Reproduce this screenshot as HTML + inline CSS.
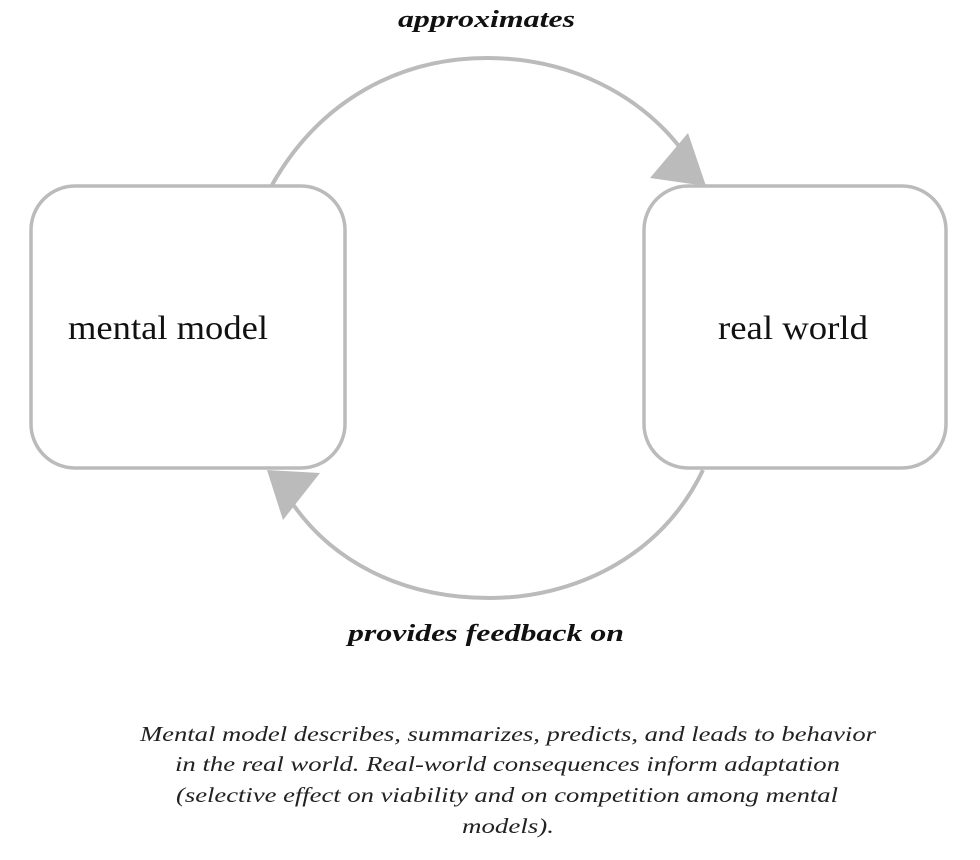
<!DOCTYPE html>
<html><head><meta charset="utf-8"><style>
html,body{margin:0;padding:0;background:#fff;}
svg{display:block;}
</style></head><body>
<svg width="980" height="860" viewBox="0 0 980 860" xmlns="http://www.w3.org/2000/svg">
<rect x="31" y="186" width="314" height="282" rx="44" ry="44" fill="#fff" stroke="#bbb" stroke-width="3.5"/>
<rect x="644" y="186" width="302" height="282" rx="44" ry="44" fill="#fff" stroke="#bbb" stroke-width="3.5"/>
<path d="M272 185 C 320 100, 400 58, 487 58 C 570 58, 640 95, 682 150" fill="none" stroke="#bbb" stroke-width="4"/>
<polygon points="650,178 706,186 688,133" fill="#bbb"/>
<path d="M703 470 C 660 560, 570 598, 490 598 C 400 598, 330 560, 290 500" fill="none" stroke="#bbb" stroke-width="4"/>
<polygon points="267,470 320,473 283,520" fill="#bbb"/>
<g font-family="Liberation Serif, serif" fill="#111">
<text x="68" y="339" font-size="34" textLength="200" lengthAdjust="spacingAndGlyphs">mental model</text>
<text x="718" y="339" font-size="34" textLength="150" lengthAdjust="spacingAndGlyphs">real world</text>
<text x="398" y="27" font-size="24" font-weight="bold" font-style="italic" textLength="177" lengthAdjust="spacingAndGlyphs">approximates</text>
<text x="348" y="641" font-size="24" font-weight="bold" font-style="italic" textLength="276" lengthAdjust="spacingAndGlyphs">provides feedback on</text>
<g font-size="21" font-style="italic" fill="#222">
<text x="140" y="741" textLength="736" lengthAdjust="spacingAndGlyphs">Mental model describes, summarizes, predicts, and leads to behavior</text>
<text x="175" y="771" textLength="665" lengthAdjust="spacingAndGlyphs">in the real world. Real-world consequences inform adaptation</text>
<text x="176" y="802" textLength="662" lengthAdjust="spacingAndGlyphs">(selective effect on viability and on competition among mental</text>
<text x="462" y="833" textLength="92" lengthAdjust="spacingAndGlyphs">models).</text>
</g>
</g>
</svg>
</body></html>
